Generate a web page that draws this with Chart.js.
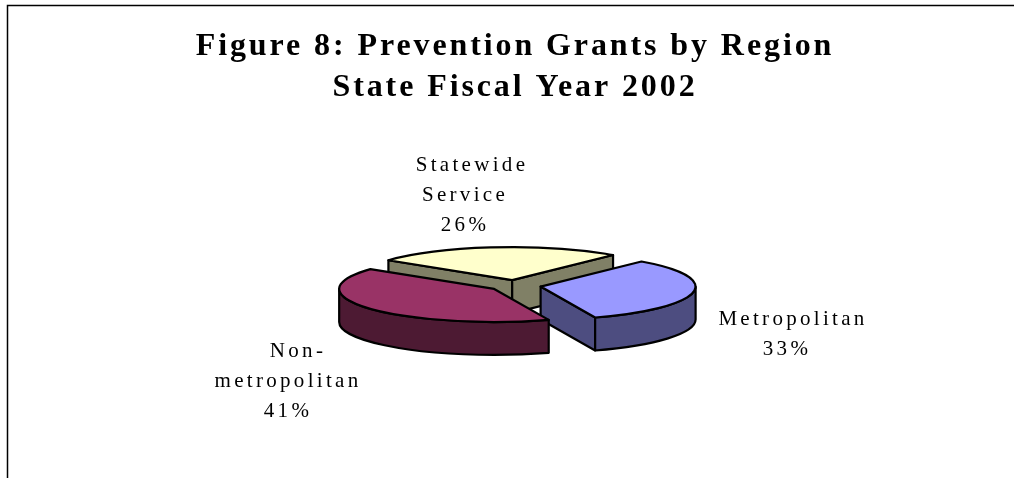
<!DOCTYPE html>
<html>
<head>
<meta charset="utf-8">
<title>Prevention Grants by Region</title>
<script src="https://cdn.jsdelivr.net/npm/chart.js@4/dist/chart.umd.min.js"></script>
<style>
  html, body { margin: 0; padding: 0; background: #fff; }
  canvas { display: block; }
</style>
</head>
<body>
<canvas id="pie" width="1015" height="478"></canvas>
<script>
// Chart data
const titleLines = ['Figure 8: Prevention Grants by Region', 'State Fiscal Year 2002'];
const categories = ['Statewide Service', 'Metropolitan', 'Non-metropolitan'];
const shares = [26, 33, 41];
const labelLines = [['Statewide', 'Service'], ['Metropolitan'], ['Non-', 'metropolitan']];

// Slice styling
const topColors = ['#FFFFCC', '#9999FF', '#993366'];
const sideColors = ['#808066', '#4D4D80', '#4D1A33'];

// Look of the tilted pie
const TILT = 0.213;      // vertical squash of the disc
const DEPTH = 33;        // height of the extruded edge, px
const EXPLODE = 26;      // radial shift of every slice, px
const RADIUS = 155;
const OUTLINE = 2.2;

// Where each data label block sits (first baseline), and per-line horizontal nudges
const labelAnchors = [{ x: 465, y: 171 }, { x: 787, y: 325 }, { x: 288, y: 357 }];
const labelNudges = [[7, 0, 0], [6, 0], [10, 0, 0]];
const labelFont = '21px "Liberation Serif"';
const labelSpacing = '3.3px';
const labelLeading = 30;

// Geometry of one slice after the shift and squash
function sliceShape(el) {
  const mid = (el.startAngle + el.endAngle) / 2;
  const r = el.outerRadius;
  const x = el.x + Math.cos(mid) * EXPLODE;
  const y = el.y + Math.sin(mid) * EXPLODE * TILT;
  return {
    x, y, r, mid,
    a0: el.startAngle,
    a1: el.endAngle,
    at: a => [x + r * Math.cos(a), y + r * TILT * Math.sin(a)]
  };
}

function paint(ctx, fill) {
  ctx.fillStyle = fill;
  ctx.fill();
  ctx.strokeStyle = '#000';
  ctx.lineWidth = OUTLINE;
  ctx.lineJoin = 'round';
  ctx.stroke();
}

function drawRadialFace(ctx, s, angle, fill) {
  const [px, py] = s.at(angle);
  ctx.beginPath();
  ctx.moveTo(s.x, s.y);
  ctx.lineTo(px, py);
  ctx.lineTo(px, py + DEPTH);
  ctx.lineTo(s.x, s.y + DEPTH);
  ctx.closePath();
  paint(ctx, fill);
}

function drawRimFace(ctx, s, fill) {
  const from = Math.max(s.a0, 0);
  const to = Math.min(s.a1, Math.PI);
  if (to <= from) return;
  ctx.beginPath();
  ctx.ellipse(s.x, s.y, s.r, s.r * TILT, 0, from, to, false);
  ctx.ellipse(s.x, s.y + DEPTH, s.r, s.r * TILT, 0, to, from, true);
  ctx.closePath();
  paint(ctx, fill);
}

const tiltedPie = {
  id: 'tiltedPie',
  beforeDraw(chart) {
    const ctx = chart.ctx;
    // Frame along the top and left of the figure
    ctx.save();
    ctx.strokeStyle = '#000';
    ctx.lineWidth = 1.5;
    ctx.beginPath();
    ctx.moveTo(7.5, chart.height);
    ctx.lineTo(7.5, 5.5);
    ctx.lineTo(chart.width - 1, 5.5);
    ctx.stroke();
    ctx.restore();
    // The title box draws under this spacing
    ctx.letterSpacing = '2.9px';
  },
  // The slices are painted here so each one gets its own shift and squash
  beforeDatasetDraw(chart) {
    const ctx = chart.ctx;
    ctx.letterSpacing = '0px';
    const arcs = chart.getDatasetMeta(0).data;
    // Edge faces first, flat tops over them
    arcs.forEach((el, i) => {
      const s = sliceShape(el);
      if (Math.cos(s.a0) < 0) drawRadialFace(ctx, s, s.a0, sideColors[i]);
      if (Math.cos(s.a1) > 0) drawRadialFace(ctx, s, s.a1, sideColors[i]);
      drawRimFace(ctx, s, sideColors[i]);
    });
    arcs.forEach(el => {
      const s = sliceShape(el);
      ctx.save();
      ctx.translate(s.x, s.y);
      ctx.scale(1, TILT);
      ctx.translate(-el.x, -el.y);
      el.draw(ctx);
      ctx.restore();
      // Outline in screen space so the line weight stays even
      ctx.beginPath();
      ctx.moveTo(s.x, s.y);
      ctx.ellipse(s.x, s.y, s.r, s.r * TILT, 0, s.a0, s.a1, false);
      ctx.closePath();
      ctx.strokeStyle = '#000';
      ctx.lineWidth = OUTLINE;
      ctx.lineJoin = 'round';
      ctx.stroke();
    });
    return false;
  },
  afterDatasetsDraw(chart) {
    const ctx = chart.ctx;
    // Data labels: category lines followed by the percentage
    ctx.save();
    ctx.font = labelFont;
    ctx.letterSpacing = labelSpacing;
    ctx.fillStyle = '#000';
    ctx.textAlign = 'center';
    ctx.textBaseline = 'alphabetic';
    labelLines.forEach((lines, i) => {
      const c = labelAnchors[i];
      [...lines, shares[i] + '%'].forEach((text, row) => {
        ctx.fillText(text, c.x + labelNudges[i][row], c.y + row * labelLeading);
      });
    });
    ctx.restore();
  }
};

new Chart(document.getElementById('pie'), {
  type: 'pie',
  data: {
    labels: categories,
    datasets: [{
      data: shares,
      backgroundColor: topColors,
      borderWidth: 0,
      rotation: -53,
      clip: false
    }]
  },
  options: {
    responsive: false,
    animation: false,
    radius: RADIUS,
    layout: { padding: { left: 15, bottom: 22 } },
    plugins: {
      legend: { display: false },
      tooltip: { enabled: false },
      title: {
        display: true,
        text: titleLines,
        color: '#000',
        font: { family: '"Liberation Serif"', size: 32, weight: 'bold', lineHeight: 1.285 },
        padding: { top: 26, bottom: 7 }
      }
    }
  },
  plugins: [tiltedPie]
});
</script>
</body>
</html>
